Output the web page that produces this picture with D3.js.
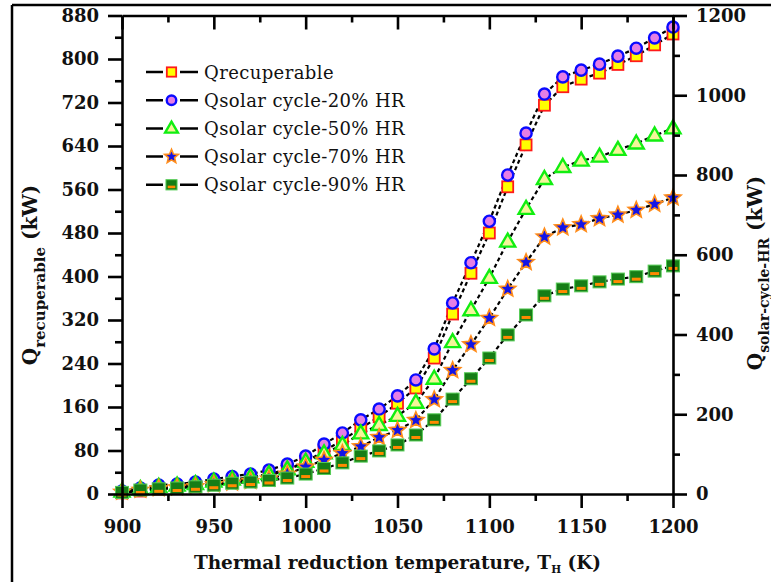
<!DOCTYPE html>
<html>
<head>
<meta charset="utf-8">
<script src="https://cdn.jsdelivr.net/npm/d3@7"></script>
<style>
  html, body { margin: 0; padding: 0; background: #fff; }
  svg { display: block; }
  text { fill: #111; }
</style>
</head>
<body>
<svg id="chart" width="771" height="582"></svg>
<script>
// Thermal reduction temperature (K)
const temperature = d3.range(900, 1201, 10);

// Recuperable heat (kW, left axis)
const qRecuperable = [2, 5.5, 9, 11, 14, 18, 23, 27.6, 34, 44, 59, 79, 99, 121, 142, 167, 195, 250, 331, 406, 480, 565, 642, 715, 749, 763, 774, 790, 806, 826, 846];

// Solar cycle heat at different heat recovery levels (kW, right axis)
const qSolar20 = [7.5, 15, 22.6, 25, 30, 37.6, 44, 50, 60, 75, 95, 125, 153, 186, 213, 246, 286, 364, 479, 580, 684, 800, 905, 1003, 1046, 1063, 1078, 1098, 1118, 1144, 1171];
const qSolar50 = [6, 12, 18, 21, 25, 31, 36, 42, 50, 62, 81, 102, 123, 152, 173, 196, 229, 289, 381, 461, 542, 633, 715, 790, 820, 836, 846, 863, 879, 899, 917];
const qSolar70 = [5, 10, 14, 16, 19, 24, 28, 32, 38, 50, 68, 85, 102, 119, 142, 160, 185, 237, 310, 375, 441, 514, 581, 645, 668, 676, 691, 700, 712, 727, 743];
const qSolar90 = [4, 10, 13, 15, 18, 22, 27, 30, 34, 40, 50, 64, 78, 95, 108, 123, 148, 186, 238, 289, 341, 399, 449, 497, 514, 522, 532, 539, 545, 559, 572];

const seriesNames = ["Qrecuperable", "Qsolar cycle-20% HR", "Qsolar cycle-50% HR", "Qsolar cycle-70% HR", "Qsolar cycle-90% HR"];

const xTicks = [900, 950, 1000, 1050, 1100, 1150, 1200];
const leftTicks = [0, 80, 160, 240, 320, 400, 480, 560, 640, 720, 800, 880];
const rightTicks = [0, 200, 400, 600, 800, 1000, 1200];

const svg = d3.select("#chart");
const FONT = "'DejaVu Serif', 'Liberation Serif', serif";

const plot = { left: 122, right: 673, top: 15.5, bottom: 494 };

const x = d3.scaleLinear().domain([900, 1200]).range([plot.left, plot.right]);
const yL = d3.scaleLinear().domain([0, 880]).range([plot.bottom, plot.top]);
const yR = d3.scaleLinear().domain([0, 1200]).range([plot.bottom, plot.top]);

// Outer frame (top and left edges)
svg.append("line").attr("x1", 12).attr("x2", 771).attr("y1", 5).attr("y2", 5)
  .attr("stroke", "#000").attr("stroke-width", 2.5);
svg.append("line").attr("x1", 12).attr("x2", 12).attr("y1", 5).attr("y2", 582)
  .attr("stroke", "#000").attr("stroke-width", 2.5);

// Marker painters
function drawSquareRec(g, s = 1) {
  g.append("rect").attr("x", -5.5 * s).attr("y", -5.5 * s).attr("width", 11 * s).attr("height", 11 * s)
    .attr("fill", "#ffff00").attr("stroke", "#ff1a1a").attr("stroke-width", 1.8);
}
function drawCircle(g, s = 1) {
  g.append("circle").attr("r", 5.6 * s)
    .attr("fill", "#e57ee5").attr("stroke", "#0a0aff").attr("stroke-width", 2.4);
}
function drawTriangle(g, s = 1) {
  g.append("path").attr("d", `M0,${-8 * s} L${7.5 * s},${5 * s} L${-7.5 * s},${5 * s} Z`)
    .attr("fill", "#f4f59a").attr("stroke", "#11ee11").attr("stroke-width", 2.4).attr("stroke-linejoin", "miter");
}
function drawStar(g, s = 1) {
  const pts = [];
  for (let i = 0; i < 10; i++) {
    const r = (i % 2 === 0 ? 8.5 : 3.8) * s;
    const a = -Math.PI / 2 + i * Math.PI / 5;
    pts.push([r * Math.cos(a), r * Math.sin(a)]);
  }
  g.append("path").attr("d", "M" + pts.map(p => p.join(",")).join("L") + "Z")
    .attr("fill", "#1414e6").attr("stroke", "#ff8c1a").attr("stroke-width", 1.6).attr("stroke-linejoin", "miter");
}
function drawSquareGreen(g, s = 1) {
  g.append("rect").attr("x", -6.5 * s).attr("y", -6 * s).attr("width", 13 * s).attr("height", 12 * s)
    .attr("fill", "#167d16").attr("stroke", "#55cc55").attr("stroke-width", 1);
  g.append("rect").attr("x", -4.5 * s).attr("y", 1 * s).attr("width", 9 * s).attr("height", 3 * s)
    .attr("fill", "#ff8a00");
}

const series = [
  { values: qRecuperable, y: yL, draw: drawSquareRec },
  { values: qSolar20, y: yR, draw: drawCircle },
  { values: qSolar50, y: yR, draw: drawTriangle },
  { values: qSolar70, y: yR, draw: drawStar },
  { values: qSolar90, y: yR, draw: drawSquareGreen }
];

// Connecting lines
const lineLayer = svg.append("g");
series.forEach(s => {
  const line = d3.line().x((d, i) => x(temperature[i])).y(d => s.y(d));
  lineLayer.append("path").datum(s.values).attr("d", line)
    .attr("fill", "none").attr("stroke", "#000").attr("stroke-width", 2.2)
    .attr("stroke-dasharray", "4,3");
});

// Markers
series.forEach(s => {
  const g = svg.append("g");
  s.values.forEach((v, i) => {
    const m = g.append("g").attr("transform", `translate(${x(temperature[i])},${s.y(v)})`);
    s.draw(m);
  });
});

// Axes
const axisStyle = g => {
  g.selectAll("path.domain").attr("stroke", "#000").attr("stroke-width", 2.6);
  g.selectAll(".tick line").attr("stroke", "#000").attr("stroke-width", 2.6);
  g.selectAll("text").attr("font-family", FONT).attr("font-weight", "bold").attr("font-size", 18).attr("fill", "#111");
};
const minorStyle = g => {
  g.select("path.domain").remove();
  g.selectAll(".tick line").attr("stroke", "#000").attr("stroke-width", 2.6);
  g.selectAll("text").remove();
};

// bottom
svg.append("g").attr("transform", `translate(0,${plot.bottom})`)
  .call(d3.axisBottom(x).tickValues(d3.range(925, 1200, 50)).tickSize(7).tickSizeOuter(0))
  .call(minorStyle);
svg.append("g").attr("transform", `translate(0,${plot.bottom})`)
  .call(d3.axisBottom(x).tickValues(xTicks).tickSize(14).tickSizeOuter(0).tickPadding(12).tickFormat(d3.format("d")))
  .call(axisStyle);

// top (ticks inward)
svg.append("g").attr("transform", `translate(0,${plot.top})`)
  .call(d3.axisBottom(x).tickValues(d3.range(925, 1200, 50)).tickSize(7).tickSizeOuter(0))
  .call(minorStyle);
svg.append("g").attr("transform", `translate(0,${plot.top})`)
  .call(d3.axisBottom(x).tickValues(xTicks).tickSize(14).tickSizeOuter(0).tickFormat(""))
  .call(axisStyle);

// left
svg.append("g").attr("transform", `translate(${plot.left},0)`)
  .call(d3.axisLeft(yL).tickValues(d3.range(40, 880, 80)).tickSize(7).tickSizeOuter(0))
  .call(minorStyle);
svg.append("g").attr("transform", `translate(${plot.left},0)`)
  .call(d3.axisLeft(yL).tickValues(leftTicks).tickSize(14).tickSizeOuter(0).tickPadding(9).tickFormat(d3.format("d")))
  .call(axisStyle);

// right
svg.append("g").attr("transform", `translate(${plot.right},0)`)
  .call(d3.axisRight(yR).tickValues(d3.range(100, 1200, 200)).tickSize(7).tickSizeOuter(0))
  .call(minorStyle);
svg.append("g").attr("transform", `translate(${plot.right},0)`)
  .call(d3.axisRight(yR).tickValues(rightTicks).tickSize(14).tickSizeOuter(0).tickPadding(9).tickFormat(d3.format("d")))
  .call(axisStyle);

// Axis titles
const xTitle = svg.append("text").attr("x", (plot.left + plot.right) / 2).attr("y", 569)
  .attr("text-anchor", "middle").attr("font-family", FONT).attr("font-weight", "bold").attr("font-size", 18.5);
xTitle.append("tspan").text("Thermal reduction temperature, T");
xTitle.append("tspan").attr("font-size", 10.5).attr("dy", 4).text("H");
xTitle.append("tspan").attr("dy", -4).text(" (K)");

const yLeftTitle = svg.append("text").attr("transform", "translate(37,275) rotate(-90)")
  .attr("text-anchor", "middle").attr("font-family", FONT).attr("font-weight", "bold").attr("font-size", 20);
yLeftTitle.append("tspan").text("Q");
yLeftTitle.append("tspan").attr("font-size", 15).attr("dy", 8).text("recuperable");
yLeftTitle.append("tspan").attr("dy", -8).text(" (kW)");

const yRightTitle = svg.append("text").attr("transform", "translate(762,273) rotate(-90)")
  .attr("text-anchor", "middle").attr("font-family", FONT).attr("font-weight", "bold").attr("font-size", 20);
yRightTitle.append("tspan").text("Q");
yRightTitle.append("tspan").attr("font-size", 14).attr("dy", 7).text("solar-cycle-HR");
yRightTitle.append("tspan").attr("dy", -7).text(" (kW)");

// Legend
const legend = svg.append("g");
series.forEach((s, i) => {
  const yy = 72 + i * 28.2;
  const row = legend.append("g").attr("transform", `translate(0,${yy})`);
  row.append("line").attr("x1", 146).attr("x2", 198).attr("y1", 0).attr("y2", 0)
    .attr("stroke", "#000").attr("stroke-width", 2.5);
  row.append("rect").attr("x", 163).attr("y", -6).attr("width", 17).attr("height", 12).attr("fill", "#fff");
  const m = row.append("g").attr("transform", "translate(171.5,0)");
  s.draw(m, 0.85);
  row.append("text").attr("x", 204).attr("y", 6.5).attr("font-family", FONT)
    .attr("font-size", 18).attr("letter-spacing", 0.4).text(seriesNames[i]);
});
</script>
</body>
</html>
